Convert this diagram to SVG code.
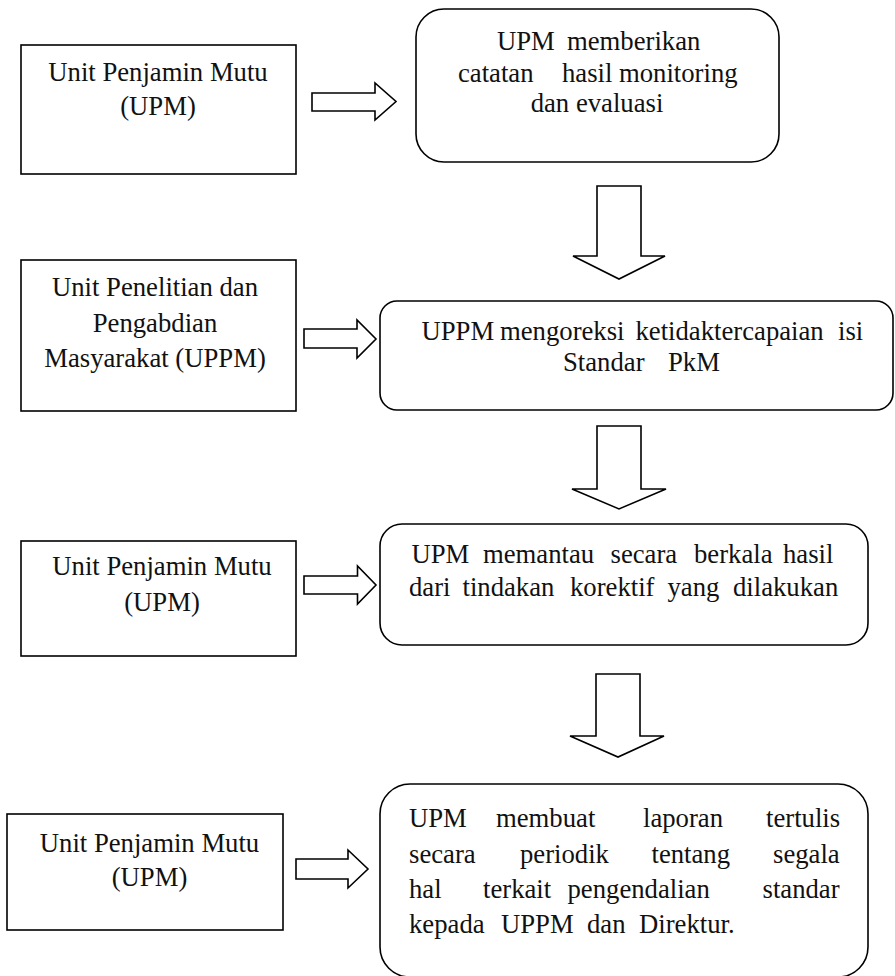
<svg xmlns="http://www.w3.org/2000/svg" width="895" height="976" viewBox="0 0 895 976">
  <style>
    .box { fill: #ffffff; stroke: #000000; stroke-width: 1.6; }
    .arrow { fill: #ffffff; stroke: #000000; stroke-width: 1.6; stroke-linejoin: miter; }
    text { font-family: "Liberation Serif", "Times New Roman", serif; font-size: 26.7px; fill: #111111; }
    .c { text-anchor: middle; }
  </style>
  <rect width="895" height="976" fill="#ffffff"/>

  <!-- Row 1 -->
  <g id="unit-upm-1">
    <rect class="box" x="21" y="45" width="275" height="129"/>
    <text class="c" x="158" y="81">Unit Penjamin Mutu</text>
    <text class="c" x="158" y="115">(UPM)</text>
  </g>
  <g id="step-monitoring">
    <rect class="box" x="416" y="9" width="363" height="153" rx="28" ry="28"/>
    <text y="50"><tspan x="497">UPM</tspan><tspan x="567">memberikan</tspan></text>
    <text y="82"><tspan x="458">catatan</tspan><tspan x="562">hasil</tspan><tspan x="619">monitoring</tspan></text>
    <text class="c" x="597" y="112">dan evaluasi</text>
  </g>

  <!-- Row 2 -->
  <g id="unit-uppm">
    <rect class="box" x="21" y="260" width="275" height="151"/>
    <text class="c" x="155" y="296">Unit Penelitian dan</text>
    <text class="c" x="155" y="332">Pengabdian</text>
    <text class="c" x="155" y="367">Masyarakat (UPPM)</text>
  </g>
  <g id="step-koreksi">
    <rect class="box" x="380" y="301" width="513" height="109" rx="17" ry="17"/>
    <text y="340"><tspan x="421.5">UPPM</tspan><tspan x="500">mengoreksi</tspan><tspan x="635.5">ketidaktercapaian</tspan><tspan x="838">isi</tspan></text>
    <text y="371"><tspan x="563">Standar</tspan><tspan x="668">PkM</tspan></text>
  </g>

  <!-- Row 3 -->
  <g id="unit-upm-2">
    <rect class="box" x="21" y="541" width="275" height="115"/>
    <text class="c" x="162" y="575">Unit Penjamin Mutu</text>
    <text class="c" x="162" y="611">(UPM)</text>
  </g>
  <g id="step-pemantauan">
    <rect class="box" x="380" y="524" width="488" height="121" rx="22" ry="22"/>
    <text y="563"><tspan x="411.5">UPM</tspan><tspan x="483">memantau</tspan><tspan x="610.5">secara</tspan><tspan x="694">berkala</tspan><tspan x="783">hasil</tspan></text>
    <text y="596"><tspan x="409">dari</tspan><tspan x="462.5">tindakan</tspan><tspan x="570">korektif</tspan><tspan x="667.5">yang</tspan><tspan x="733">dilakukan</tspan></text>
  </g>

  <!-- Row 4 -->
  <g id="unit-upm-3">
    <rect class="box" x="7" y="814" width="276" height="116"/>
    <text class="c" x="149.5" y="852">Unit Penjamin Mutu</text>
    <text class="c" x="149.5" y="886">(UPM)</text>
  </g>
  <g id="step-laporan">
    <rect class="box" x="380" y="784" width="488" height="193" rx="30" ry="30"/>
    <text y="827"><tspan x="409">UPM</tspan><tspan x="496">membuat</tspan><tspan x="643">laporan</tspan><tspan x="766">tertulis</tspan></text>
    <text y="863"><tspan x="409">secara</tspan><tspan x="520">periodik</tspan><tspan x="651.5">tentang</tspan><tspan x="773">segala</tspan></text>
    <text y="898"><tspan x="409">hal</tspan><tspan x="483">terkait</tspan><tspan x="567.5">pengendalian</tspan><tspan x="762.5">standar</tspan></text>
    <text y="933"><tspan x="409">kepada</tspan><tspan x="501">UPPM</tspan><tspan x="587">dan</tspan><tspan x="639">Direktur.</tspan></text>
  </g>

  <!-- Block arrows -->
  <g id="connectors">
    <polygon class="arrow" points="312,93 375,93 375,83 396,101.5 375,120 375,111 312,111"/>
    <polygon class="arrow" points="304,329 357,329 357,320 376,339 357,358 357,348 304,348"/>
    <polygon class="arrow" points="304,576 357.5,576 357.5,566 376,585 357.5,604 357.5,594 304,594"/>
    <polygon class="arrow" points="296,859 348,859 348,850 368,869 348,888 348,879 296,879"/>
    <polygon class="arrow" points="597,186 641,186 641,256 665,256 619,279 573,256 597,256"/>
    <polygon class="arrow" points="597,426 641,426 641,489 666,489 619,509 572,489 597,489"/>
    <polygon class="arrow" points="596,674 640,674 640,736 664,736 618,757 570,736 596,736"/>
  </g>
</svg>
